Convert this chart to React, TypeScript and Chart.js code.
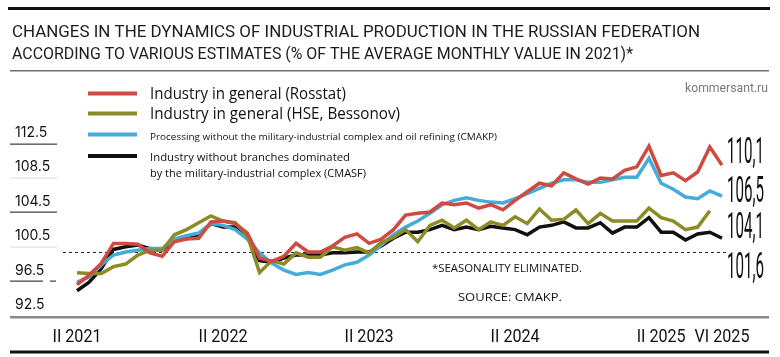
import React, { useEffect, useRef } from "react";
import { Chart, registerables } from "chart.js";

Chart.register(...registerables);

// ---------- DATA ----------
const ROMAN = ["I", "II", "III", "IV", "V", "VI", "VII", "VIII", "IX", "X", "XI", "XII"];
const categories: string[] = [];
for (let y = 2021; y <= 2025; y++) {
  for (let m = 0; m < 12; m++) {
    if (y === 2025 && m > 5) break;
    categories.push(`${ROMAN[m]} ${y}`);
  }
}

const rosstat = [96.2, 97.3, 98.7, 101.0, 101.0, 100.9, 99.9, 99.5, 101.2, 101.5, 101.6, 103.5, 103.6, 103.3, 102.2, 99.3, 98.9, 99.5, 101.0, 100.0, 100.0, 100.7, 101.7, 102.1, 101.0, 101.5, 102.6, 104.3, 104.5, 104.65, 105.7, 105.5, 105.7, 105.1, 105.5, 104.9, 106.0, 107.0, 108.0, 107.7, 109.2, 108.5, 107.9, 108.6, 108.5, 109.5, 109.9, 112.3, 108.9, 109.2, 108.3, 109.3, 112.2, 110.1];
const hse = [97.6, 97.5, 97.5, 98.3, 98.6, 99.65, 100.2, 100.2, 102.0, 102.6, 103.4, 104.2, 103.6, 103.4, 101.9, 97.6, 99.0, 98.6, 99.9, 99.4, 99.4, 100.6, 100.2, 100.5, 99.9, 101.1, 101.7, 102.6, 101.2, 103.1, 103.7, 102.8, 103.7, 102.6, 103.5, 103.1, 104.1, 103.3, 105.0, 103.7, 103.8, 104.9, 103.3, 104.5, 103.6, 103.6, 103.6, 105.1, 104.0, 103.6, 102.6, 102.9, 104.8, null];
const processing = [96.5, 97.1, 98.5, 99.65, 100.0, 100.2, 100.4, 100.4, 101.5, 101.9, 102.2, 103.3, 103.1, 102.6, 101.5, 99.9, 98.7, 97.9, 97.4, 97.6, 97.4, 97.9, 98.5, 98.8, 99.65, 100.8, 102.0, 102.9, 103.6, 104.5, 105.5, 106.0, 106.3, 106.0, 105.8, 105.7, 106.2, 106.8, 107.4, 108.0, 108.4, 108.4, 108.1, 108.1, 108.4, 108.7, 108.7, 110.9, 108.0, 107.3, 106.4, 106.2, 107.1, 106.5];
const noMilitary = [95.5, 96.5, 98.1, 100.3, 100.6, 100.8, 100.4, 100.2, 101.4, 101.8, 102.0, 103.3, 102.9, 102.9, 101.7, 99.0, 98.8, 99.3, 99.65, 99.65, 99.65, 99.9, 99.9, 100.0, 100.0, 100.7, 101.6, 102.3, 102.3, 102.6, 103.1, 102.6, 102.9, 102.6, 103.0, 102.8, 102.6, 102.0, 102.9, 103.1, 103.5, 102.8, 102.8, 103.4, 102.2, 102.9, 102.9, 104.0, 102.3, 102.3, 101.4, 102.1, 102.3, 101.6];

const xTickIndices = [0, 12, 24, 36, 48, 53];
const xTickLabels = ["II 2021", "II 2022", "II 2023", "II 2024", "II 2025", "VI 2025"];
const yTickValues = [112.5, 108.5, 104.5, 100.5, 96.5, 92.5];
const endLabels = ["110,1", "106,5", "104,1", "101,6"];

const seriesNames = [
  "Industry in general (Rosstat)",
  "Industry in general (HSE, Bessonov)",
  "Processing without the military-industrial complex and oil refining (CMAKP)",
  "Industry without branches dominated",
];
const seriesName4b = "by the military-industrial complex (CMASF)";
const titleLines = [
  "CHANGES IN THE DYNAMICS OF INDUSTRIAL PRODUCTION IN THE RUSSIAN FEDERATION",
  "ACCORDING TO VARIOUS ESTIMATES (% OF THE AVERAGE MONTHLY VALUE IN 2021)*",
];
const noteText = "*SEASONALITY ELIMINATED.";
const sourceText = "SOURCE: CMAKP.";
const siteText = "kommersant.ru";

const RED = "#cf4a40";
const OLIVE = "#8c8c26";
const BLUE = "#45acd8";
const BLACK = "#111111";

// ---------- helpers ----------
function fitText(
  ctx: CanvasRenderingContext2D,
  text: string,
  x: number,
  baseline: number,
  font: string,
  color: string,
  width: number | null,
  align: "left" | "center" | "right" = "left",
  fixedScale?: number
) {
  ctx.save();
  ctx.font = font;
  ctx.fillStyle = color;
  ctx.textBaseline = "alphabetic";
  ctx.textAlign = "left";
  const w = ctx.measureText(text).width;
  const s = fixedScale !== undefined ? fixedScale : width ? width / w : 1;
  const ww = w * s;
  const x0 = align === "left" ? x : align === "center" ? x - ww / 2 : x - ww;
  ctx.translate(x0, baseline);
  ctx.scale(s, 1);
  ctx.fillText(text, 0, 0);
  ctx.restore();
}

const decoPlugin = {
  id: "deco",
  beforeDatasetsDraw(chart: any) {
    const ctx: CanvasRenderingContext2D = chart.ctx;
    const ys = chart.scales.y;
    ctx.save();
    // top black rule
    ctx.fillStyle = "#111";
    ctx.fillRect(8, 7, 762, 3);
    // grey rule under title
    ctx.fillStyle = "#6e6e6e";
    ctx.fillRect(10, 70, 759, 1.5);
    // y separators
    yTickValues.forEach((v) => {
      const y = Math.round(ys.getPixelForValue(v)) - 1.5;
      if (v === 92.5) return;
      const strong = v === 112.5 || v === 104.5 || v === 96.5;
      ctx.fillStyle = strong ? "#4a4a4a" : "#e4e4e4";
      if (v === 96.5) {
        ctx.fillRect(10, y, 33, 1.3);
        ctx.fillRect(50, y, 6, 1.3);
      } else {
        ctx.fillRect(10, y, 47, 1.3);
      }
    });
    // dashed base line at 100
    const y100 = Math.round(ys.getPixelForValue(100)) + 0.5;
    ctx.strokeStyle = "#222";
    ctx.lineWidth = 1;
    ctx.setLineDash([3, 3]);
    ctx.beginPath();
    ctx.moveTo(63, y100);
    ctx.lineTo(727, y100);
    ctx.stroke();
    ctx.setLineDash([]);
    // bottom axis
    const yb = ys.getPixelForValue(92.5);
    ctx.fillStyle = "#8a8a8a";
    ctx.fillRect(10, yb - 0.5, 759, 2.5);
    // bottom black rule
    ctx.fillStyle = "#111";
    ctx.fillRect(10, 350.5, 759, 3);
    ctx.restore();
  },
  afterDraw(chart: any) {
    const ctx: CanvasRenderingContext2D = chart.ctx;
    const xs = chart.scales.x;
    const ys = chart.scales.y;
    // title
    fitText(ctx, titleLines[0], 12, 36.5, "400 17px Roboto", "#1c1c1c", 688);
    fitText(ctx, titleLines[1], 12, 58.5, "400 17px Roboto", "#1c1c1c", 621);
    // site
    fitText(ctx, siteText, 768, 92, "400 13px Roboto", "#7a7a7a", 83, "right");
    // legend
    const legendColors = [RED, OLIVE, BLUE, BLACK];
    const legendY = [93.5, 113.5, 134.5, 156];
    ctx.save();
    legendColors.forEach((c, i) => {
      ctx.fillStyle = c;
      ctx.fillRect(88, legendY[i] - 2, 49, 4);
    });
    ctx.restore();
    fitText(ctx, seriesNames[0], 150, 99, "400 16px 'Open Sans'", "#111", 196);
    fitText(ctx, seriesNames[1], 150, 119, "400 16px 'Open Sans'", "#111", 250);
    fitText(ctx, seriesNames[2], 150, 139.5, "400 9px 'Open Sans'", "#111", 347);
    fitText(ctx, seriesNames[3], 150, 160.5, "400 11.5px 'Open Sans'", "#111", 200);
    fitText(ctx, seriesName4b, 150, 177, "400 11.5px 'Open Sans'", "#111", 216);
    // y labels
    yTickValues.forEach((v) => {
      const y = ys.getPixelForValue(v);
      fitText(ctx, String(v), 15, y - 7.5, "400 14px Inter", "#111", null);
    });
    // x labels
    ctx.save();
    ctx.font = "400 19px Roboto";
    const xScale = 49 / ctx.measureText(xTickLabels[0]).width;
    ctx.restore();
    xTickIndices.forEach((idx, i) => {
      const x = xs.getPixelForValue(idx);
      fitText(ctx, xTickLabels[i], x, 342, "400 19px Roboto", "#111", null, "center", xScale);
    });
    // end labels
    ctx.save();
    ctx.font = "400 36px Roboto";
    const eScale = 37 / ctx.measureText(endLabels[1]).width;
    ctx.restore();
    const endBase = [163, 201.5, 237.5, 277.5];
    endLabels.forEach((t, i) => {
      fitText(ctx, t, 727, endBase[i], "400 36px Roboto", "#111", null, "left", eScale);
    });
    // notes
    fitText(ctx, noteText, 432, 272, "400 11px 'Open Sans'", "#111", 150);
    fitText(ctx, sourceText, 458, 301, "400 11px 'Open Sans'", "#111", 104);
  },
};

export default function App() {
  const ref = useRef<HTMLCanvasElement | null>(null);
  useEffect(() => {
    if (!ref.current) return;
    const chart = new Chart(ref.current, {
      type: "line",
      data: {
        labels: categories,
        datasets: [
          { label: seriesNames[0], data: rosstat, borderColor: RED },
          { label: seriesNames[1], data: hse as any, borderColor: OLIVE },
          { label: seriesNames[2], data: processing, borderColor: BLUE },
          { label: seriesNames[3], data: noMilitary, borderColor: BLACK },
        ],
      },
      options: {
        animation: false,
        responsive: false,
        maintainAspectRatio: false,
        layout: { padding: { left: 77, right: 58, top: 127.3, bottom: 40.5 } },
        scales: {
          x: { type: "category", display: false, offset: false },
          y: { display: false, min: 92.5, max: 114.5 },
        },
        plugins: { legend: { display: false }, tooltip: { enabled: false } },
        elements: {
          point: { radius: 0 },
          line: { tension: 0, borderWidth: 3.5, borderJoinStyle: "miter", borderCapStyle: "butt", fill: false },
        },
      },
      plugins: [decoPlugin],
    });
    return () => chart.destroy();
  }, []);
  return (
    <div style={{ position: "absolute", left: 0, top: 0, width: 780, height: 357, background: "#fff" }}>
      <canvas ref={ref} width={780} height={357} style={{ display: "block", width: 780, height: 357 }} />
    </div>
  );
}
